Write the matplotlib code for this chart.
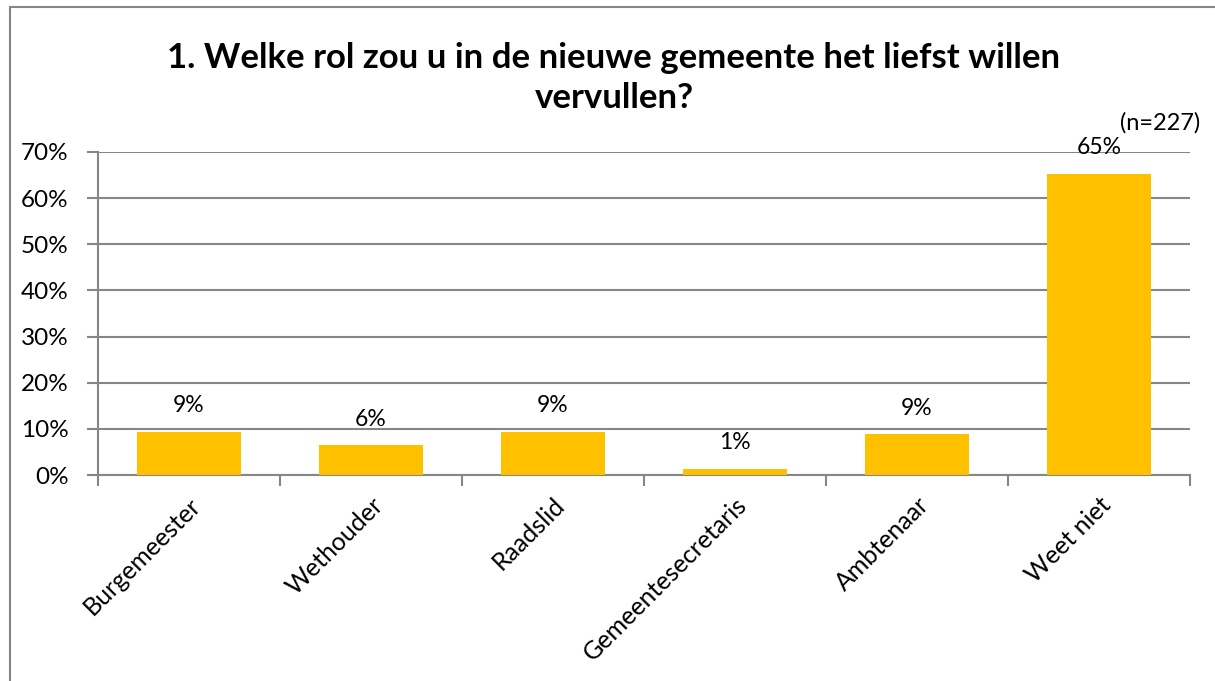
import matplotlib
matplotlib.use("Agg")
import matplotlib.pyplot as plt
from matplotlib.patches import Rectangle
import numpy as np

categories = ["Burgemeester", "Wethouder", "Raadslid", "Gemeentesecretaris", "Ambtenaar", "Weet niet"]
values = [9.3, 6.4, 9.3, 1.3, 8.8, 65.2]
labels = ["9%", "6%", "9%", "1%", "9%", "65%"]
yticks = [0, 10, 20, 30, 40, 50, 60, 70]
title = "1. Welke rol zou u in de nieuwe gemeente het liefst willen\nvervullen?"
note = "(n=227)"

plt.rcParams['font.family'] = ['Lato', 'DejaVu Sans']

fig = plt.figure(figsize=(12.15, 6.81), dpi=100)
ax = fig.add_axes([98/1215, 1 - 475/681, (1190-98)/1215, (475-152)/681])

gray = "#868686"
x = np.arange(len(categories))
ax.bar(x, values, width=0.57, color="#FFC000", zorder=3)
for xi, v, lab in zip(x, values, labels):
    ax.text(xi, v + 3.4, lab, ha="center", va="bottom", fontsize=16.5, color="black")

ax.set_xlim(-0.5, len(categories) - 0.5)
ax.set_ylim(0, 70)
ax.set_yticks(yticks)
ax.set_yticklabels([f"{t}%" for t in yticks], fontsize=17.5)
ax.yaxis.grid(True, color=gray, linewidth=1.5, zorder=0)
ax.set_axisbelow(True)

ax.set_xticks(np.arange(-0.5, len(categories), 1.0))
ax.set_xticklabels([])
ax.set_xticks(x, minor=True)
ax.set_xticklabels(categories, minor=True, rotation=45, ha="right", va="top",
                   rotation_mode="anchor", fontsize=18)
ax.tick_params(axis="x", which="minor", length=0, pad=13)
ax.tick_params(axis="x", which="major", length=8, color=gray, width=1.5)
ax.tick_params(axis="y", length=8, color=gray, width=1.5, pad=13)

for s in ["top", "right"]:
    ax.spines[s].set_visible(False)
for s in ["left", "bottom"]:
    ax.spines[s].set_color(gray)
    ax.spines[s].set_linewidth(1.5)

fig.text(614/1215, 1 - 78/681, title, ha="center", va="center", fontsize=25,
         fontweight="bold", linespacing=1.3)
fig.text(1200/1215, 1 - 123/681, note, ha="right", va="center", fontsize=17)

fig.patches.append(Rectangle((10/1215, -0.1), 1.2, 1 - 7/681 + 0.1, transform=fig.transFigure,
                             fill=False, edgecolor=gray, linewidth=1.5))

fig.savefig("out.png", dpi=100)
